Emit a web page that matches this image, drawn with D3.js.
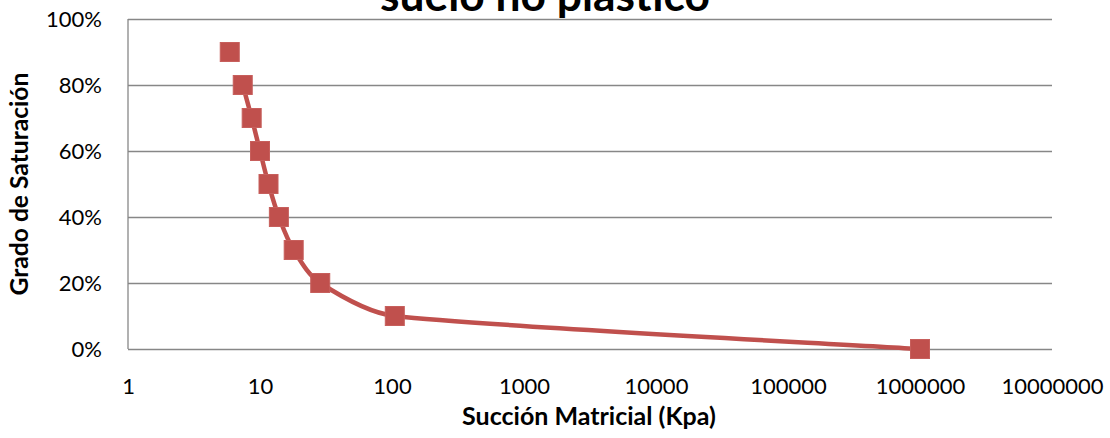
<!DOCTYPE html>
<html>
<head>
<meta charset="utf-8">
<script src="https://cdn.jsdelivr.net/npm/d3@7"></script>
<style>
  html, body { margin: 0; padding: 0; background: #ffffff; }
  svg { display: block; }
  text { font-family: Lato, "Open Sans", sans-serif; fill: #000; }
</style>
</head>
<body>
<svg id="chart" width="1110" height="438"></svg>
<script>
// Succión matricial (kPa) y grado de saturación medidos
const succion    = [5.9, 7.4, 8.65, 10, 11.6, 13.9, 18, 28.6, 105, 1000000];
const saturacion = [0.90, 0.80, 0.70, 0.60, 0.50, 0.40, 0.30, 0.20, 0.10, 0.00];

// La curva suavizada parte de la segunda lectura; la primera queda como punto aislado
const inicioCurva = 1;

const xTicks = [1, 10, 100, 1000, 10000, 100000, 1000000, 10000000];
const yTicks = [0, 0.2, 0.4, 0.6, 0.8, 1.0];

const titulo  = "suelo no plástico";
const tituloX = "Succión Matricial (Kpa)";
const tituloY = "Grado de Saturación";

const rojo = "#C0504D";
const gris = "#878787";

const svg = d3.select("#chart");
const plot = { left: 128, right: 1052, top: 19, bottom: 349 };

const x = d3.scaleLog().domain([1, 1e7]).range([plot.left, plot.right]);
const y = d3.scaleLinear().domain([0, 1]).range([plot.bottom, plot.top]);

// Ajusta el tamaño de letra para que el texto ocupe el ancho indicado
function fitWidth(sel, width) {
  sel.attr("font-size", 100);
  const w = sel.node().getComputedTextLength();
  sel.attr("font-size", 100 * width / w);
}

// Curva suave tipo hoja de cálculo: tangente según los vecinos,
// con la longitud de los puntos de control limitada por cada tramo
class CurvaSuave {
  constructor(context) { this._context = context; }
  areaStart() {}
  areaEnd() {}
  lineStart() { this._pts = []; }
  point(px, py) { this._pts.push([+px, +py]); }
  lineEnd() {
    const p = this._pts, n = p.length, ctx = this._context;
    if (!n) return;
    ctx.moveTo(p[0][0], p[0][1]);
    if (n < 2) return;
    const dist = (a, b) => Math.hypot(b[0] - a[0], b[1] - a[1]);
    const tang = p.map((_, i) => {
      const a = p[Math.max(0, i - 1)], b = p[Math.min(n - 1, i + 1)];
      const d = dist(a, b) || 1;
      return { ux: (b[0] - a[0]) / d, uy: (b[1] - a[1]) / d, h: d / 6 };
    });
    for (let i = 0; i < n - 1; i++) {
      const a = p[i], b = p[i + 1], L = dist(a, b);
      const ta = tang[i], tb = tang[i + 1];
      const la = Math.min(ta.h, L / 3), lb = Math.min(tb.h, L / 3);
      ctx.bezierCurveTo(
        a[0] + ta.ux * la, a[1] + ta.uy * la,
        b[0] - tb.ux * lb, b[1] - tb.uy * lb,
        b[0], b[1]);
    }
  }
}

// Líneas de división horizontales y etiquetas del eje Y
const yAxis = svg.append("g")
  .attr("transform", `translate(${plot.left},0)`)
  .call(d3.axisLeft(y)
    .tickValues(yTicks)
    .tickSize(-(plot.right - plot.left))
    .tickPadding(26)
    .tickFormat(d3.format(".0%")));
yAxis.select(".domain").remove();
yAxis.selectAll(".tick line").attr("stroke", gris).attr("stroke-width", 1.3);
yAxis.selectAll(".tick text")
  .attr("font-size", 22)
  .attr("font-family", "Lato, sans-serif")
  .attr("fill", "#000");

// Eje vertical
svg.append("line")
  .attr("x1", plot.left).attr("x2", plot.left)
  .attr("y1", plot.top).attr("y2", plot.bottom)
  .attr("stroke", gris).attr("stroke-width", 1.3);

// Etiquetas del eje X (escala logarítmica)
const xAxis = svg.append("g")
  .attr("transform", `translate(0,${plot.bottom})`)
  .call(d3.axisBottom(x)
    .tickValues(xTicks)
    .tickSize(0)
    .tickPadding(29)
    .tickFormat(d3.format("d")));
xAxis.select(".domain").remove();
xAxis.selectAll(".tick text")
  .attr("font-size", 22)
  .attr("font-family", "Lato, sans-serif")
  .attr("fill", "#000");

// Curva suavizada
const puntos = succion.map((s, i) => ({ s, g: saturacion[i] }));
const linea = d3.line()
  .x(d => x(d.s))
  .y(d => y(d.g))
  .curve(ctx => new CurvaSuave(ctx));

svg.append("path")
  .datum(puntos.slice(inicioCurva))
  .attr("d", linea)
  .attr("fill", "none")
  .attr("stroke", rojo)
  .attr("stroke-width", 4.5)
  .attr("stroke-linejoin", "round");

// Marcadores cuadrados
const lado = 19;
svg.append("g").selectAll("rect")
  .data(puntos)
  .join("rect")
  .attr("x", d => x(d.s) - lado / 2)
  .attr("y", d => y(d.g) - lado / 2)
  .attr("width", lado)
  .attr("height", lado)
  .attr("fill", rojo)
  .attr("stroke", "#c75f5c")
  .attr("stroke-width", 1);

// Títulos
const t = svg.append("text")
  .attr("x", 545).attr("y", 11)
  .attr("text-anchor", "middle")
  .attr("font-weight", "bold")
  .text(titulo);
fitWidth(t, 330);

const tx = svg.append("text")
  .attr("x", 589).attr("y", 425)
  .attr("text-anchor", "middle")
  .attr("font-weight", "bold")
  .text(tituloX);
fitWidth(tx, 254);

const ty = svg.append("text")
  .attr("transform", "translate(28,184) rotate(-90)")
  .attr("text-anchor", "middle")
  .attr("font-weight", "bold")
  .text(tituloY);
fitWidth(ty, 223);
</script>
</body>
</html>
